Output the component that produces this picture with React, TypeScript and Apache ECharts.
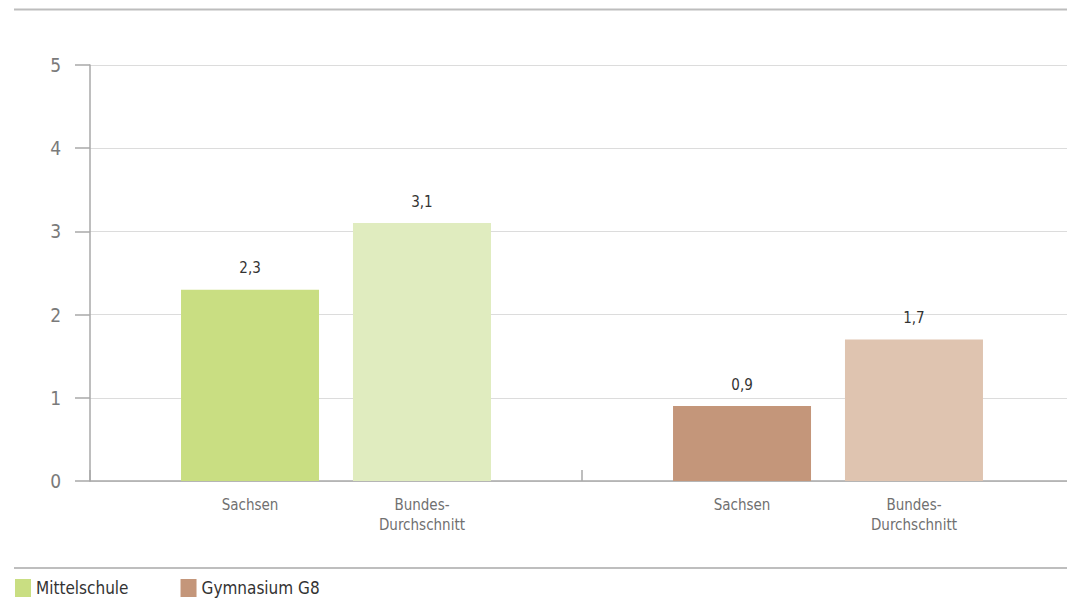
import React, { useEffect, useRef } from "react";
import * as echarts from "echarts";

const groups = ["Mittelschule", "Gymnasium G8"];
const seriesNames = ["Sachsen", "Bundes-\nDurchschnitt"];
const sachsenValues = [2.3, 0.9];
const bundValues = [3.1, 1.7];
const sachsenColors = ["#c9de82", "#c4967a"];
const bundColors = ["#e0ecbf", "#dfc4b0"];
const legendColors = ["#c9de82", "#c4967a"];
const yTicks = [0, 1, 2, 3, 4, 5];

const FONT = '"Liberation Sans Narrow", "DejaVu Sans Condensed", "Open Sans", sans-serif';

export default function App() {
  const ref = useRef<HTMLDivElement>(null);
  useEffect(() => {
    if (!ref.current) return;
    const chart = echarts.init(ref.current, undefined, { renderer: "svg" });
    const fmt = (v: number) => String(v).replace(".", ",");
    const mkBar = (name: string, values: number[], colors: string[]) => ({
      type: "bar",
      name,
      barWidth: 138,
      barGap: "24.6%",
      data: values.map((v, i) => ({ value: v, itemStyle: { color: colors[i] } })),
      label: {
        show: true,
        position: "top",
        distance: 14,
        fontFamily: FONT,
        fontSize: 15,
        color: "#333333",
        formatter: (p: any) => fmt(p.value),
      },
      markPoint: {
        silent: true,
        symbol: "rect",
        symbolSize: [1, 1],
        itemStyle: { color: "transparent" },
        label: {
          show: true,
          position: "bottom",
          distance: 13,
          fontFamily: FONT,
          fontSize: 15,
          lineHeight: 20,
          color: "#707070",
          formatter: () => name,
        },
        data: groups.map((g) => ({ coord: [g, 0] })),
      },
    });
    chart.setOption({
      animation: false,
      textStyle: { fontFamily: FONT },
      grid: {
        left: 90,
        width: 984,
        top: 65,
        bottom: 122,
        containLabel: false,
        outerBoundsMode: "none",
      },
      legend: {
        data: groups,
        left: 10,
        top: 574,
        itemWidth: 16,
        itemHeight: 18,
        itemGap: 52,
        icon: "rect",
        textStyle: { fontFamily: FONT, fontSize: 17, color: "#333333" },
      },
      xAxis: {
        type: "category",
        data: groups,
        axisLine: { lineStyle: { color: "#a8a8a8", width: 1.5 } },
        axisTick: { show: true, inside: true, length: 11, lineStyle: { color: "#a8a8a8", width: 1.5 } },
        axisLabel: { show: false },
      },
      yAxis: {
        type: "value",
        min: yTicks[0],
        max: yTicks[yTicks.length - 1],
        interval: 1,
        axisLine: { show: true, lineStyle: { color: "#a8a8a8", width: 1.5 } },
        axisTick: { show: true, length: 15, lineStyle: { color: "#a8a8a8", width: 1.5 } },
        axisLabel: { margin: 29, fontFamily: FONT, fontSize: 19, color: "#7a7a7a" },
        splitLine: { lineStyle: { color: "#dcdcdc", width: 1 } },
      },
      series: [
        mkBar(seriesNames[0], sachsenValues, sachsenColors),
        mkBar(seriesNames[1], bundValues, bundColors),
        { type: "line", name: groups[0], data: [], itemStyle: { color: legendColors[0] } },
        { type: "line", name: groups[1], data: [], itemStyle: { color: legendColors[1] } },
      ],
      graphic: [
        { type: "line", shape: { x1: 14, y1: 9.5, x2: 1067, y2: 9.5 }, style: { stroke: "#bdbdbd", lineWidth: 2 } },
        { type: "line", shape: { x1: 14, y1: 568, x2: 1067, y2: 568 }, style: { stroke: "#a8a8a8", lineWidth: 1.5 } },
      ],
    });
    return () => chart.dispose();
  }, []);
  return (
    <div
      ref={ref}
      style={{ position: "fixed", left: 0, top: 0, width: 1067, height: 603, background: "#fff" }}
    />
  );
}
